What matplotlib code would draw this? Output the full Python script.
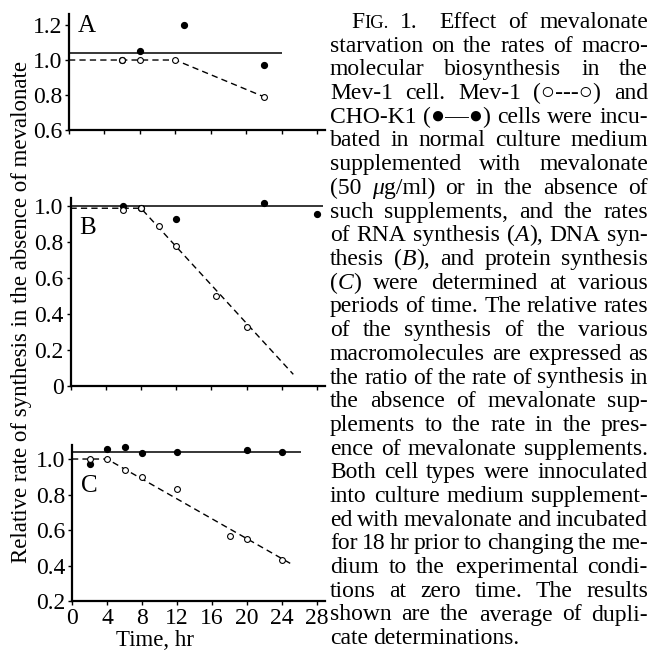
import re
import matplotlib
matplotlib.use('Agg')
import matplotlib.pyplot as plt

plt.rcParams['font.family'] = ['Liberation Serif', 'DejaVu Sans']

W, H = 653, 652

# ---- data ----
hours_ticks = [0, 4, 8, 12, 16, 20, 24, 28]
hour_labels = ['0', '4', '8', '12', '16', '20', '24', '28']

# panel A: RNA synthesis
a_k1_hr = [6, 8, 13, 22]
a_k1 = [1.0, 1.05, 1.2, 0.97]
a_mev_hr = [6, 8, 12, 22]
a_mev = [1.0, 1.0, 1.0, 0.79]
a_k1_fit_hr = [0, 24]
a_k1_fit = [1.04, 1.04]
a_mev_fit_hr = [0, 12, 22]
a_mev_fit = [1.0, 1.0, 0.79]
a_yticks = [0.6, 0.8, 1.0, 1.2]
a_ylabels = ['0.6', '0.8', '1.0', '1.2']

# panel B: DNA synthesis
b_k1_hr = [6, 8, 12, 22, 28]
b_k1 = [1.0, 0.99, 0.93, 1.02, 0.96]
b_mev_hr = [6, 8, 10, 12, 16.5, 20]
b_mev = [0.98, 0.99, 0.89, 0.78, 0.50, 0.33]
b_k1_fit_hr = [0, 28.7]
b_k1_fit = [1.005, 1.005]
b_mev_fit_hr = [0, 8, 25.3]
b_mev_fit = [0.99, 0.99, 0.065]
b_yticks = [0, 0.2, 0.4, 0.6, 0.8, 1.0]
b_ylabels = ['0', '0.2', '0.4', '0.6', '0.8', '1.0']

# panel C: protein synthesis
c_k1_hr = [2, 4, 6, 8, 12, 20, 24]
c_k1 = [0.97, 1.055, 1.065, 1.035, 1.04, 1.05, 1.04]
c_mev_hr = [2, 4, 6, 8, 12, 18, 20, 24]
c_mev = [1.0, 1.0, 0.94, 0.90, 0.83, 0.565, 0.55, 0.43]
c_k1_fit_hr = [0, 26.2]
c_k1_fit = [1.04, 1.04]
c_mev_fit_hr = [0, 4, 25]
c_mev_fit = [1.0, 1.0, 0.41]
c_yticks = [0.2, 0.4, 0.6, 0.8, 1.0]
c_ylabels = ['0.2', '0.4', '0.6', '0.8', '1.0']

caption = [
    'F^IG.^ 1.  Effect of mevalonate',
    'starvation on the rates of macro-',
    'molecular biosynthesis in the',
    'Mev-1 cell. Mev-1 (\u25cb---\u25cb) and',
    'CHO-K1 (\u25cf\u2014\u25cf) cells were incu-',
    'bated in normal culture medium',
    'supplemented with mevalonate',
    '(50 *\u03bc*g/ml) or in the absence of',
    'such supplements, and the rates',
    'of RNA synthesis (*A*), DNA syn-',
    'thesis (*B*), and protein synthesis',
    '(*C*) were determined at various',
    'periods of time. The relative rates',
    'of the synthesis of the various',
    'macromolecules are expressed as',
    'the ratio of the rate of synthesis in',
    'the absence of mevalonate sup-',
    'plements to the rate in the pres-',
    'ence of mevalonate supplements.',
    'Both cell types were innoculated',
    'into culture medium supplement-',
    'ed with mevalonate and incubated',
    'for 18 hr prior to changing the me-',
    'dium to the experimental condi-',
    'tions at zero time. The results',
    'shown are the average of dupli-',
    'cate determinations.',
]

fig = plt.figure(figsize=(6.53, 6.52), dpi=100)


def px_axes(left, top, right, bottom):
    return fig.add_axes([left / W, 1 - bottom / H, (right - left) / W, (bottom - top) / H])


def panel(ax, k1_hr, k1, mev_hr, mev, k1_fit_hr, k1_fit, mev_fit_hr, mev_fit,
          yticks, ylabels, ylim, letter, letter_y, show_x):
    ax.plot(k1_fit_hr, k1_fit, color='black', lw=1.1, solid_capstyle='butt')
    ax.plot(mev_fit_hr, mev_fit, color='black', lw=1.0, ls=(0, (4.5, 3)))
    ax.plot(k1_hr, k1, 'o', color='black', ms=4.2, clip_on=False)
    ax.plot(mev_hr, mev, 'o', mfc='white', mec='black', mew=0.8, ms=4.2, clip_on=False)
    ax.set_xlim(0, 28.9)
    ax.set_ylim(*ylim)
    ax.set_yticks(yticks)
    ax.set_yticklabels(ylabels)
    ax.set_xticks(hours_ticks)
    if show_x:
        ax.set_xticklabels(hour_labels)
    else:
        ax.set_xticklabels([])
    for s in ['top', 'right']:
        ax.spines[s].set_visible(False)
    for s in ['left', 'bottom']:
        ax.spines[s].set_linewidth(1.6)
    ax.tick_params(direction='out', length=3, width=1, labelsize=17, pad=2)
    ax.text(0.035, letter_y, letter, transform=ax.transAxes, fontsize=18,
            ha='left', va='center')


ax_a = px_axes(69, 14, 325, 130)
panel(ax_a, a_k1_hr, a_k1, a_mev_hr, a_mev, a_k1_fit_hr, a_k1_fit,
      a_mev_fit_hr, a_mev_fit, a_yticks, a_ylabels, (0.6, 1.263), 'A', 0.9, False)

ax_b = px_axes(70.5, 198, 325, 386)
panel(ax_b, b_k1_hr, b_k1, b_mev_hr, b_mev, b_k1_fit_hr, b_k1_fit,
      b_mev_fit_hr, b_mev_fit, b_yticks, b_ylabels, (0, 1.047), 'B', 0.84, False)

ax_c = px_axes(72, 445, 325, 601)
panel(ax_c, c_k1_hr, c_k1, c_mev_hr, c_mev, c_k1_fit_hr, c_k1_fit,
      c_mev_fit_hr, c_mev_fit, c_yticks, c_ylabels, (0.2, 1.079), 'C', 0.74, True)

fig.text(22 / W, 1 - 312 / H, 'Relative rate of synthesis in the absence of mevalonate',
         rotation=90, ha='center', va='center', fontsize=16.5)
fig.text(155 / W, 1 - 641 / H, 'Time, hr', ha='center', va='center', fontsize=16.5)

# ---- justified caption ----
renderer = fig.canvas.get_renderer()
cap_left, cap_right = 330, 648
base0, step = 28, 23.7


def make_word(word, size):
    parts = re.split(r'(\*[^*]+\*|\^[^^]+\^)', word)
    items = []
    for p in parts:
        if not p:
            continue
        kw = dict(fontsize=size, va='baseline', ha='left')
        if p.startswith('*'):
            p = p[1:-1]
            kw['style'] = 'italic'
        elif p.startswith('^'):
            p = p[1:-1]
            kw['fontsize'] = size * 0.78
        t = fig.text(0, 0, p, **kw)
        items.append((t, t.get_window_extent(renderer).width))
    return items


def space_width(size):
    t1 = fig.text(0, 0, 'a a', fontsize=size)
    t2 = fig.text(0, 0, 'aa', fontsize=size)
    w = t1.get_window_extent(renderer).width - t2.get_window_extent(renderer).width
    t1.remove()
    t2.remove()
    return w


# pick the caption size so the widest line fits with tight (0.6) spaces
sw10 = space_width(10) * 0.6
widest = 0
for i, line in enumerate(caption[:-1]):
    words = [make_word(tk, 10) for tk in line.split(' ') if tk]
    nat = sum(w for wd in words for _, w in wd) + sw10 * (len(words) - 1)
    avail = cap_right - (351 if i == 0 else cap_left)
    widest = max(widest, nat / avail)
    for wd in words:
        for t, _ in wd:
            t.remove()
cap_size = 10 / widest * 0.99
space_w = space_width(cap_size) * 0.8

for i, line in enumerate(caption):
    y = base0 + i * step
    toks = line.split(' ')
    words, weights = [], []
    extra = 0
    for tk in toks:
        if tk == '':
            extra += 1
            continue
        words.append(make_word(tk, cap_size))
        weights.append(1 + extra)
        extra = 0
    weights = weights[1:]
    start = 351 if i == 0 else cap_left
    total = sum(w for wd in words for _, w in wd)
    if i == len(caption) - 1 or not weights:
        unit = space_w
    else:
        unit = (cap_right - start - total) / sum(weights)
    x = start
    for j, wd in enumerate(words):
        if j > 0:
            x += unit * weights[j - 1]
        for t, w in wd:
            t.set_position((x / W, 1 - y / H))
            x += w

fig.savefig('out.png', dpi=100, facecolor='white')
